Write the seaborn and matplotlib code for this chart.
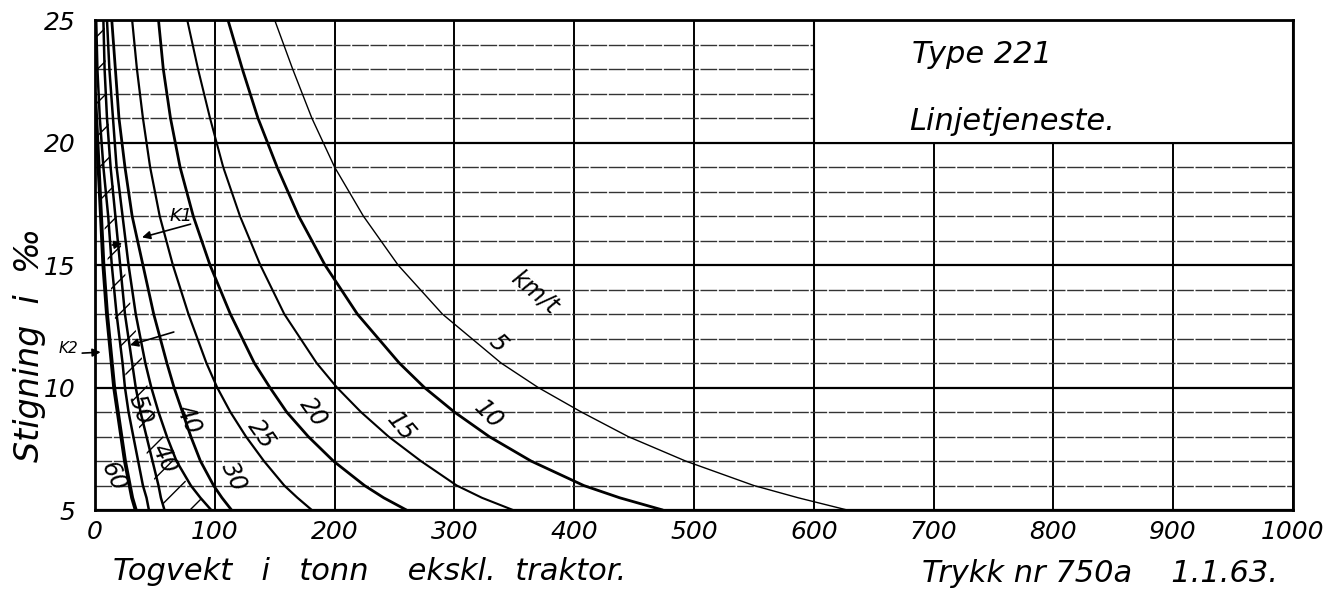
import matplotlib.pyplot as plt
import seaborn as sns
import pandas as pd
from matplotlib.patches import Rectangle

# Stigning (i, promille) vs togvekt (tonn), one list per speed curve
i_std = [25, 23, 21, 19, 17, 15, 13, 11, 10, 9, 8, 7, 6, 5.5, 5]
w_5 = [150, 165, 181, 200, 224, 253, 290, 339, 370, 406, 445, 493, 550, 587, 628]
w_10 = [111, 123, 136, 152, 170, 192, 219, 254, 275, 300, 329, 364, 408, 438, 474]
w_15 = [77, 86, 96, 107, 121, 138, 158, 185, 202, 222, 245, 272, 302, 323, 349]
w_20 = [53, 57, 63, 71, 82, 96, 113, 133, 146, 160, 178, 199, 225, 241, 260]
w_25 = [31, 35, 40, 46, 54, 65, 78, 93, 102, 113, 126, 141, 158, 169, 181]
w_30 = [14, 17, 20, 25, 31, 40, 49, 60, 66, 73, 80, 88, 99, 106, 114]
w_40b = [10, 12, 15, 18, 23, 28, 34, 42, 47, 53, 60, 68, 80, 88, 97]
w_40a = [7, 8, 10, 13, 17, 21, 25, 31, 34, 38, 43, 48, 53, 55, 58]
w_50 = [1, 2, 4, 7, 11, 14, 18, 23, 25, 28, 32, 36, 40, 43, 45]

i_60 = [22, 21, 19, 17, 15, 13, 11, 10, 9, 8, 7, 6, 5.5, 5]
w_60 = [0, 1, 3, 5, 7, 10, 14, 16, 19, 22, 25, 29, 31, 34]

# hatched band between the K-lines
band_lo = [0, 1, 2, 4, 7, 11, 16, 23, 28, 33, 39, 45, 51, 55, 58]
band_hi = [8, 9, 11, 14, 18, 24, 31, 40, 44, 50, 57, 65, 78, 87, 97]

x_ticks = [0, 100, 200, 300, 400, 500, 600, 700, 800, 900, 1000]
y_ticks = [5, 10, 15, 20, 25]

sns.set_theme(style="white")
plt.rcParams["font.family"] = ["DejaVu Sans"]
plt.rcParams["font.style"] = "italic"
plt.rcParams["text.color"] = "black"
plt.rcParams["xtick.color"] = "black"
plt.rcParams["ytick.color"] = "black"
plt.rcParams["hatch.linewidth"] = 1.0

fig = plt.figure(figsize=(13.4, 5.91), dpi=100)
ax = fig.add_axes([0.0709, 0.137, 0.894, 0.829])

curves = [
    (w_5, i_std, 1.0), (w_10, i_std, 2.0), (w_15, i_std, 1.5),
    (w_20, i_std, 2.0), (w_25, i_std, 1.6), (w_30, i_std, 2.0),
    (w_40b, i_std, 1.8), (w_40a, i_std, 1.8), (w_50, i_std, 1.8),
    (w_60, i_60, 2.8),
]
for w, i, lw in curves:
    df = pd.DataFrame({"w": w, "i": i})
    sns.lineplot(data=df, x="w", y="i", sort=False, estimator=None,
                 color="black", lw=lw, ax=ax, zorder=3)

ax.fill_betweenx(i_std, band_lo, band_hi, facecolor="none",
                 edgecolor="black", hatch="/", linewidth=0, zorder=2)

# title box top right
ax.add_patch(Rectangle((600, 20), 400, 5, facecolor="white", edgecolor="black",
                       lw=1.5, zorder=2.5))
ax.text(682, 23.6, "Type 221", fontsize=22, va="center", ha="left", zorder=4)
ax.text(680, 20.85, "Linjetjeneste.", fontsize=22, va="center", ha="left", zorder=4)

# curve labels
labels = [("5", 336, 11.8, -45), ("10", 328, 8.9, -45), ("15", 255, 8.4, -50),
          ("20", 182, 9.0, -55), ("25", 139, 8.1, -55), ("30", 116, 6.35, -65),
          ("40", 78, 8.7, -65), ("40", 58, 7.1, -65), ("50", 38, 9.1, -70),
          ("60", 15, 6.35, -65)]
for txt, x, y, rot in labels:
    ax.text(x, y, txt, fontsize=17, rotation=rot, ha="center", va="center", zorder=4)
ax.text(367, 13.9, "km/t", fontsize=17, rotation=-40, ha="center", va="center", zorder=4)

# K1 / K2 arrows
arr = dict(arrowstyle="-|>", color="black", lw=1.2, mutation_scale=12)
ax.annotate("", xy=(37, 16.1), xytext=(82, 16.7), arrowprops=arr, zorder=5)
ax.text(72, 17.0, "K1", fontsize=13, ha="center", va="center", zorder=5)
ax.annotate("", xy=(25, 15.9), xytext=(12, 15.8), arrowprops=arr, zorder=5)
ax.annotate("", xy=(27, 11.7), xytext=(68, 12.3), arrowprops=arr, zorder=5)
ax.annotate("", xy=(7, 11.45), xytext=(-13, 11.4), arrowprops=arr,
            annotation_clip=False, zorder=5)
ax.text(-22, 11.6, "K2", fontsize=11, ha="center", va="center", clip_on=False)

ax.set_xlim(0, 1000)
ax.set_ylim(5, 25)
ax.set_xticks(x_ticks)
ax.set_yticks(y_ticks)
ax.set_yticks(range(5, 26), minor=True)
ax.set_axisbelow(True)
ax.grid(which="major", axis="x", color="black", lw=1.4)
ax.grid(which="major", axis="y", color="black", lw=1.6)
ax.grid(which="minor", axis="y", color="#333333", lw=1.0, linestyle=(0, (12, 1.2)))
ax.tick_params(axis="both", which="both", length=0, labelsize=18)
ax.tick_params(axis="x", pad=7)
ax.tick_params(axis="y", pad=14)
for s in ax.spines.values():
    s.set_color("black")
    s.set_linewidth(2)
ax.set_xlabel("")
ax.set_ylabel("")

fig.text(30 / 1340, 1 - 345 / 591, "Stigning  i  \u2030", rotation=90, fontsize=24,
         ha="center", va="center")
fig.text(113 / 1340, 1 - 572 / 591, "Togvekt   i   tonn    ekskl.  traktor.", fontsize=22,
         ha="left", va="center")
fig.text(922 / 1340, 1 - 574 / 591, "Trykk nr 750a    1.1.63.", fontsize=22,
         ha="left", va="center")

fig.savefig("out.png", dpi=100)
